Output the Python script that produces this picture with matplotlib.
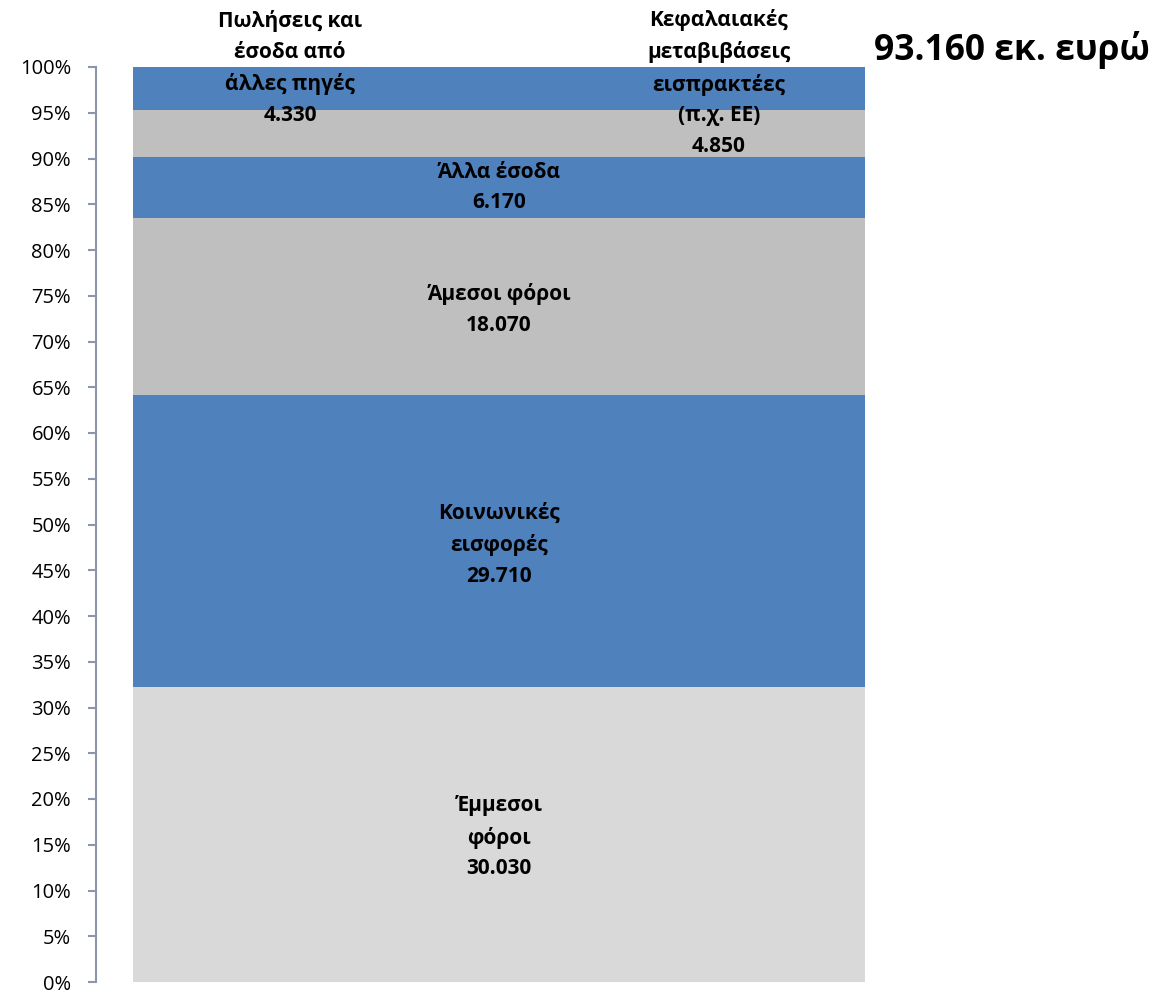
import matplotlib

matplotlib.use("Agg")
import matplotlib.pyplot as plt
import numpy as np
from matplotlib.ticker import FuncFormatter, MultipleLocator

plt.rcParams["font.family"] = ["Open Sans", "DejaVu Sans"]

# ------------------------------
# Data (bottom to top of the stack), million euro
# ------------------------------
categories = [
    "Έμμεσοι\nφόροι",
    "Κοινωνικές\nεισφορές",
    "Άμεσοι φόροι",
    "Άλλα έσοδα",
    "Κεφαλαιακές\nμεταβιβάσεις\nεισπρακτέες\n(π.χ. ΕΕ)",
    "Πωλήσεις και\nέσοδα από\nάλλες πηγές",
]
values = [30030, 29710, 18070, 6170, 4850, 4330]

colors = ["#D9D9D9", "#4F81BD", "#BFBFBF", "#4F81BD", "#BFBFBF", "#4F81BD"]
# label placement relative to the segment centre (axes x units, share units)
label_dx = [0, 0, 0, 0, 0.30, -0.285]
label_dy = [-0.003, -0.004, -0.003, 0.0, 0.055, 0.022]


def fmt_thousands(v):
    return f"{v:,}".replace(",", ".")


total = sum(values)
shares = np.array(values) / total
bottoms = np.concatenate([[0], np.cumsum(shares)[:-1]])

fig = plt.figure(figsize=(11.62, 9.93), dpi=100)
ax = fig.add_axes([96 / 1162, 11 / 993, 806 / 1162, 915 / 993])

for share, bottom, color in zip(shares, bottoms, colors):
    ax.bar(0, share, bottom=bottom, width=1.0, color=color, edgecolor="none")

for cat, val, share, bottom, dx, dy in zip(
    categories, values, shares, bottoms, label_dx, label_dy
):
    ax.text(
        dx,
        bottom + share / 2 + dy,
        f"{cat}\n{fmt_thousands(val)}",
        ha="center",
        va="center",
        fontsize=15,
        fontweight="bold",
        linespacing=1.6,
        clip_on=False,
    )

ax.set_xlim(-0.55, 0.55)
ax.set_ylim(0, 1)
ax.yaxis.set_major_locator(MultipleLocator(0.05))
ax.yaxis.set_major_formatter(FuncFormatter(lambda v, _: f"{v * 100:.0f}%"))
ax.tick_params(
    axis="y", length=6, width=1.5, color="#8C96AA", pad=12, labelsize=14.5
)
ax.set_xticks([])

for side in ["top", "right", "bottom"]:
    ax.spines[side].set_visible(False)
ax.spines["left"].set_color("#8C96AA")
ax.spines["left"].set_linewidth(1.5)

fig.text(
    1150 / 1162,
    943 / 993,
    f"{fmt_thousands(total)} εκ. ευρώ",
    ha="right",
    va="center",
    fontsize=25.5,
    fontweight="bold",
)

fig.savefig("out.png", dpi=100)
plt.close(fig)
